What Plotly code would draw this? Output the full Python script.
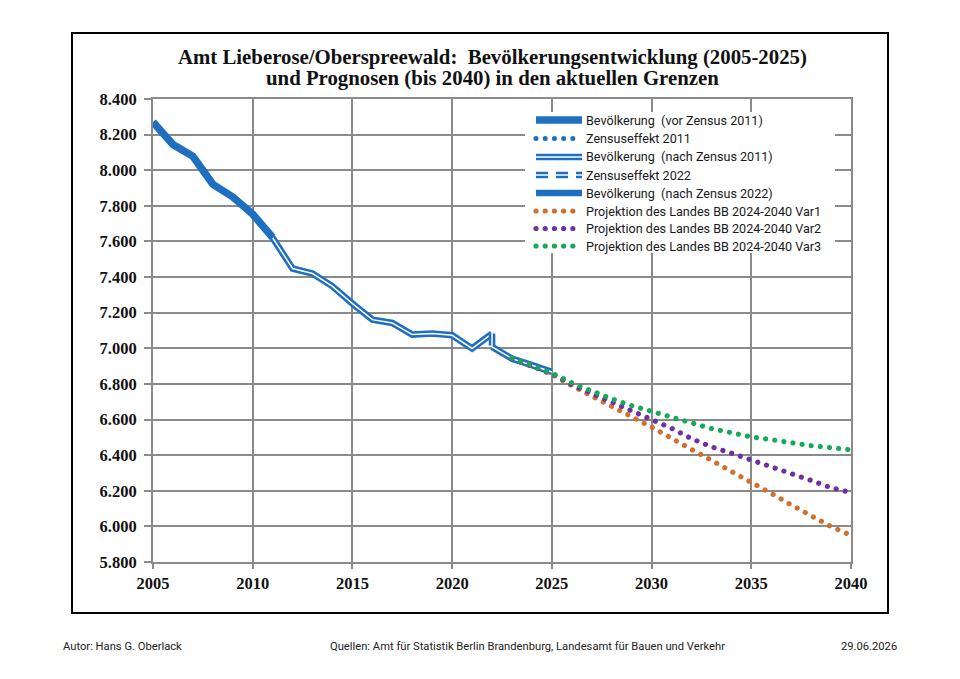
import plotly.graph_objects as go

# ---------------- data ----------------
years_pre = [2005, 2006, 2007, 2008, 2009, 2010, 2011]
pop_pre = [8271, 8144, 8078, 7921, 7850, 7753, 7622]

years_z11 = [2011, 2011]
pop_z11 = [7622, 7620]

years_post11 = [2011, 2012, 2013, 2014, 2015, 2016, 2017, 2018, 2019, 2020, 2021, 2022]
pop_post11 = [7620, 7448, 7420, 7348, 7251, 7161, 7142, 7077, 7083, 7073, 6999, 7083]

years_z22 = [2022, 2022]
pop_z22 = [7083, 7008]

years_post22 = [2022, 2023, 2024, 2025]
pop_post22 = [7008, 6942, 6905, 6867]

years_proj = list(range(2023, 2041))
proj_var1 = [6942, 6900, 6855, 6790, 6734, 6672, 6614, 6558, 6494, 6436, 6371, 6309, 6243, 6185, 6121, 6059, 5999, 5950]
proj_var2 = [6942, 6902, 6857, 6796, 6746, 6700, 6652, 6603, 6551, 6493, 6447, 6411, 6374, 6335, 6294, 6258, 6217, 6190]
proj_var3 = [6945, 6905, 6860, 6806, 6759, 6716, 6678, 6646, 6612, 6575, 6549, 6526, 6502, 6487, 6468, 6453, 6442, 6430]

legend_labels = [
    "Bevölkerung  (vor Zensus 2011)",
    "Zensuseffekt 2011",
    "Bevölkerung  (nach Zensus 2011)",
    "Zensuseffekt 2022",
    "Bevölkerung  (nach Zensus 2022)",
    "Projektion des Landes BB 2024-2040 Var1",
    "Projektion des Landes BB 2024-2040 Var2",
    "Projektion des Landes BB 2024-2040 Var3",
]

title_line1 = "Amt Lieberose/Oberspreewald:  Bevölkerungsentwicklung (2005-2025)"
title_line2 = "und Prognosen (bis 2040) in den aktuellen Grenzen"
footer_left = "Autor: Hans G. Oberlack"
footer_mid = "Quellen: Amt für Statistik Berlin Brandenburg, Landesamt für Bauen und Verkehr"
footer_right = "29.06.2026"

# ---------------- styles ----------------
BLUE = "#1f6fc0"
ORANGE = "#d0702e"
PURPLE = "#7030a0"
GREEN = "#17a95a"
GRID = "#8a8a8a"
DOT = "4px,5px"      # replaced by round dots in post script
DASH = "12px,8px"

W, H = 960, 679
ML, MR, MT, MB = 153, 109, 99, 117
PW, PH = W - ML - MR, H - MT - MB


def px(xp):
    return (xp - ML) / PW


def py(yp):
    return (H - MB - yp) / PH


fig = go.Figure()


def line_trace(x, y, color, width, dash="solid"):
    fig.add_trace(go.Scatter(x=x, y=y, mode="lines", showlegend=False, hoverinfo="skip",
                             line=dict(color=color, width=width, dash=dash)))


OUT, INN, THICK = 6.6, 1.5, 7.5

# population lines
line_trace(years_pre, pop_pre, BLUE, THICK)
line_trace(years_z11, pop_z11, BLUE, 5, DOT)
line_trace(years_post11, pop_post11, BLUE, OUT)
line_trace(years_post11, pop_post11, "white", INN)
line_trace(years_z22, pop_z22, BLUE, OUT, DASH)
line_trace(years_z22, pop_z22, "white", INN, DASH)
line_trace(years_post22, pop_post22, BLUE, OUT)
line_trace(years_post22, pop_post22, "white", INN)
# projections
line_trace(years_proj, proj_var1, ORANGE, 5.2, DOT)
line_trace(years_proj, proj_var2, PURPLE, 5.2, DOT)
line_trace(years_proj, proj_var3, GREEN, 5.2, DOT)

shapes = []
annotations = []

# outer frame
shapes.append(dict(type="rect", xref="paper", yref="paper", x0=px(72), x1=px(888), y0=py(613), y1=py(33),
                   line=dict(color="black", width=2), fillcolor="rgba(0,0,0,0)", layer="above"))

# custom legend
shapes.append(dict(type="rect", xref="paper", yref="paper", x0=px(525), x1=px(835), y0=py(253), y1=py(112),
                   line=dict(width=0), fillcolor="white", layer="above"))
row_y = [120, 138.5, 157, 175, 193, 211, 228.5, 246]
sx0, sx1 = 536, 582
samples = [
    [(BLUE, THICK, "solid")],
    [(BLUE, 5, DOT)],
    [(BLUE, OUT, "solid"), ("white", INN, "solid")],
    [(BLUE, OUT, DASH), ("white", INN, DASH)],
    [(BLUE, OUT, "solid")],
    [(ORANGE, 5.2, DOT)],
    [(PURPLE, 5.2, DOT)],
    [(GREEN, 5.2, DOT)],
]
for yrow, label, samp in zip(row_y, legend_labels, samples):
    for col, wd, ds in samp:
        shapes.append(dict(type="line", xref="paper", yref="paper", x0=px(sx0), x1=px(sx1),
                           y0=py(yrow), y1=py(yrow), line=dict(color=col, width=wd, dash=ds), layer="above"))
    annotations.append(dict(text=label, xref="paper", yref="paper", x=px(584), y=py(yrow),
                            xanchor="left", yanchor="middle", showarrow=False,
                            font=dict(family="Roboto", size=12.6, color="#1a1a1a")))

# title
for txt, yy in ((title_line1, 57.5), (title_line2, 78.5)):
    annotations.append(dict(text=txt, xref="paper", yref="paper", x=px(492), y=py(yy),
                            xanchor="center", yanchor="middle", showarrow=False,
                            font=dict(family="Liberation Serif", size=20.8, color="#111", weight="bold")))

# footer
ffont = dict(family="Roboto", size=11.2, color="#222")
annotations.append(dict(text=footer_left, xref="paper", yref="paper", x=px(61), y=py(646),
                        xanchor="left", yanchor="middle", showarrow=False, font=ffont))
annotations.append(dict(text=footer_mid, xref="paper", yref="paper", x=px(527), y=py(646),
                        xanchor="center", yanchor="middle", showarrow=False, font=ffont))
annotations.append(dict(text=footer_right, xref="paper", yref="paper", x=px(899), y=py(646),
                        xanchor="right", yanchor="middle", showarrow=False, font=ffont))

tickfont = dict(family="Liberation Serif", size=16.5, color="#111", weight="bold")

fig.update_layout(
    width=W, height=H,
    margin=dict(l=ML, r=MR, t=MT, b=MB, pad=0),
    paper_bgcolor="white", plot_bgcolor="white",
    separators=",.",
    shapes=shapes, annotations=annotations,
    xaxis=dict(range=[2005, 2040], dtick=5, tick0=2005, showgrid=True, gridcolor=GRID, gridwidth=2,
               showline=True, linecolor=GRID, linewidth=2, mirror=True, zeroline=False,
               ticks="outside", ticklen=5, tickwidth=2, tickcolor=GRID, tickfont=tickfont),
    yaxis=dict(range=[5800, 8400], dtick=200, tick0=5800, showgrid=True, gridcolor=GRID, gridwidth=2,
               showline=True, linecolor=GRID, linewidth=2, mirror=True, zeroline=False,
               ticks="outside", ticklen=7, tickwidth=2, tickcolor=GRID, tickformat=",d",
               tickfont=tickfont, ticklabelstandoff=4),
)

post = """
var gd = document.getElementById('{plot_id}');
function fixDots(){
  document.querySelectorAll('path').forEach(function(p){
    var d = (p.style.strokeDasharray || '').replace(/\\s/g,'');
    if (d === '4px,5px') {
      p.style.strokeDasharray = '0.01px,9.2px';
      p.style.strokeLinecap = 'round';
    }
  });
}
fixDots();
setTimeout(fixDots, 50);
setTimeout(fixDots, 300);
if (gd && gd.on) { gd.on('plotly_afterplot', fixDots); }
"""

fig.write_html("out.html", config={"displayModeBar": False}, post_script=post)
